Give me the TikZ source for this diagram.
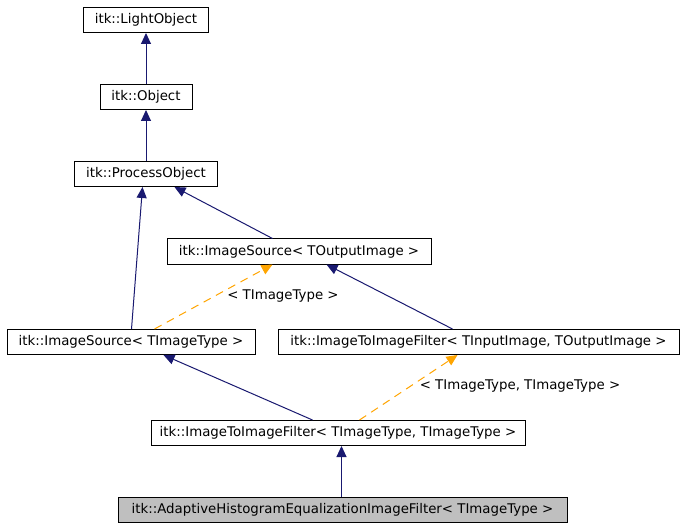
\documentclass[tikz,border=0pt]{standalone}
\usepackage{fontspec}
\setmainfont{DejaVu Sans}
\usetikzlibrary{arrows.meta,calc}
\definecolor{navy}{HTML}{191970}
\definecolor{orng}{HTML}{FFA500}
\begin{document}
\begin{tikzpicture}[x=0.75pt,y=-0.75pt,
  cls/.style={draw=black,line width=0.75pt,fill=white,inner sep=0pt,minimum height=25*0.75pt,font=\fontsize{10}{12}\selectfont},
  inh/.style={draw=navy,line width=0.75pt,-{Triangle[length=11*0.75pt,width=10*0.75pt]},color=navy},
  tmpl/.style={draw=orng,line width=0.75pt,dash pattern=on 6pt off 4.5pt,-{Triangle[length=11*0.75pt,width=10*0.75pt]},color=orng},
  lbl/.style={font=\fontsize{10}{12}\selectfont,inner sep=0pt}]
\useasboundingbox (0,0) rectangle (683,528);
\fill[white] (0,0) rectangle (683,528);
\node[cls,minimum width=125*0.75pt] (light) at (146,20) {itk::LightObject};
\node[cls,minimum width=92*0.75pt] (obj) at (146,97) {itk::Object};
\node[cls,minimum width=143*0.75pt] (proc) at (146,174) {itk::ProcessObject};
\node[cls,minimum width=264*0.75pt] (osrc) at (299,251.5) {itk::ImageSource< TOutputImage >};
\node[cls,minimum width=248*0.75pt] (isrc) at (131,342) {itk::ImageSource< TImageType >};
\node[cls,minimum width=401*0.75pt] (iif1) at (478.5,342) {itk::ImageToImageFilter< TInputImage, TOutputImage >};
\node[cls,minimum width=374*0.75pt] (iif2) at (338,433) {itk::ImageToImageFilter< TImageType, TImageType >};
\node[cls,fill={rgb,255:red,191;green,191;blue,191},minimum width=449*0.75pt] (adapt) at (342.5,510) {itk::AdaptiveHistogramEqualizationImageFilter< TImageType >};

\draw[inh] (obj.north) -- (light.south);
\draw[inh] (proc.north) -- (obj.south);
\draw[inh] ($(isrc.north west)+(125,0)$) -- ($(proc.south west)+(68.5,0)$);
\draw[inh] ($(osrc.north west)+(106,0)$) -- ($(proc.south west)+(100.5,0)$);
\draw[tmpl] ($(isrc.north west)+(148,0)$) -- ($(osrc.south west)+(106,0)$);
\draw[inh] ($(iif1.north west)+(175,0)$) -- ($(osrc.south west)+(160,0)$);
\draw[inh] ($(iif2.north west)+(162,0)$) -- ($(isrc.south west)+(157,0)$);
\draw[tmpl] ($(iif2.north west)+(209,0)$) -- ($(iif1.south west)+(180,0)$);
\draw[inh] ($(adapt.north west)+(224,0)$) -- ($(iif2.south west)+(191,0)$);

\node[lbl] (l1) at (283,296) {< TImageType >};
\node[lbl] (l2) at (520,386) {< TImageType, TImageType >};
\end{tikzpicture}
\end{document}
